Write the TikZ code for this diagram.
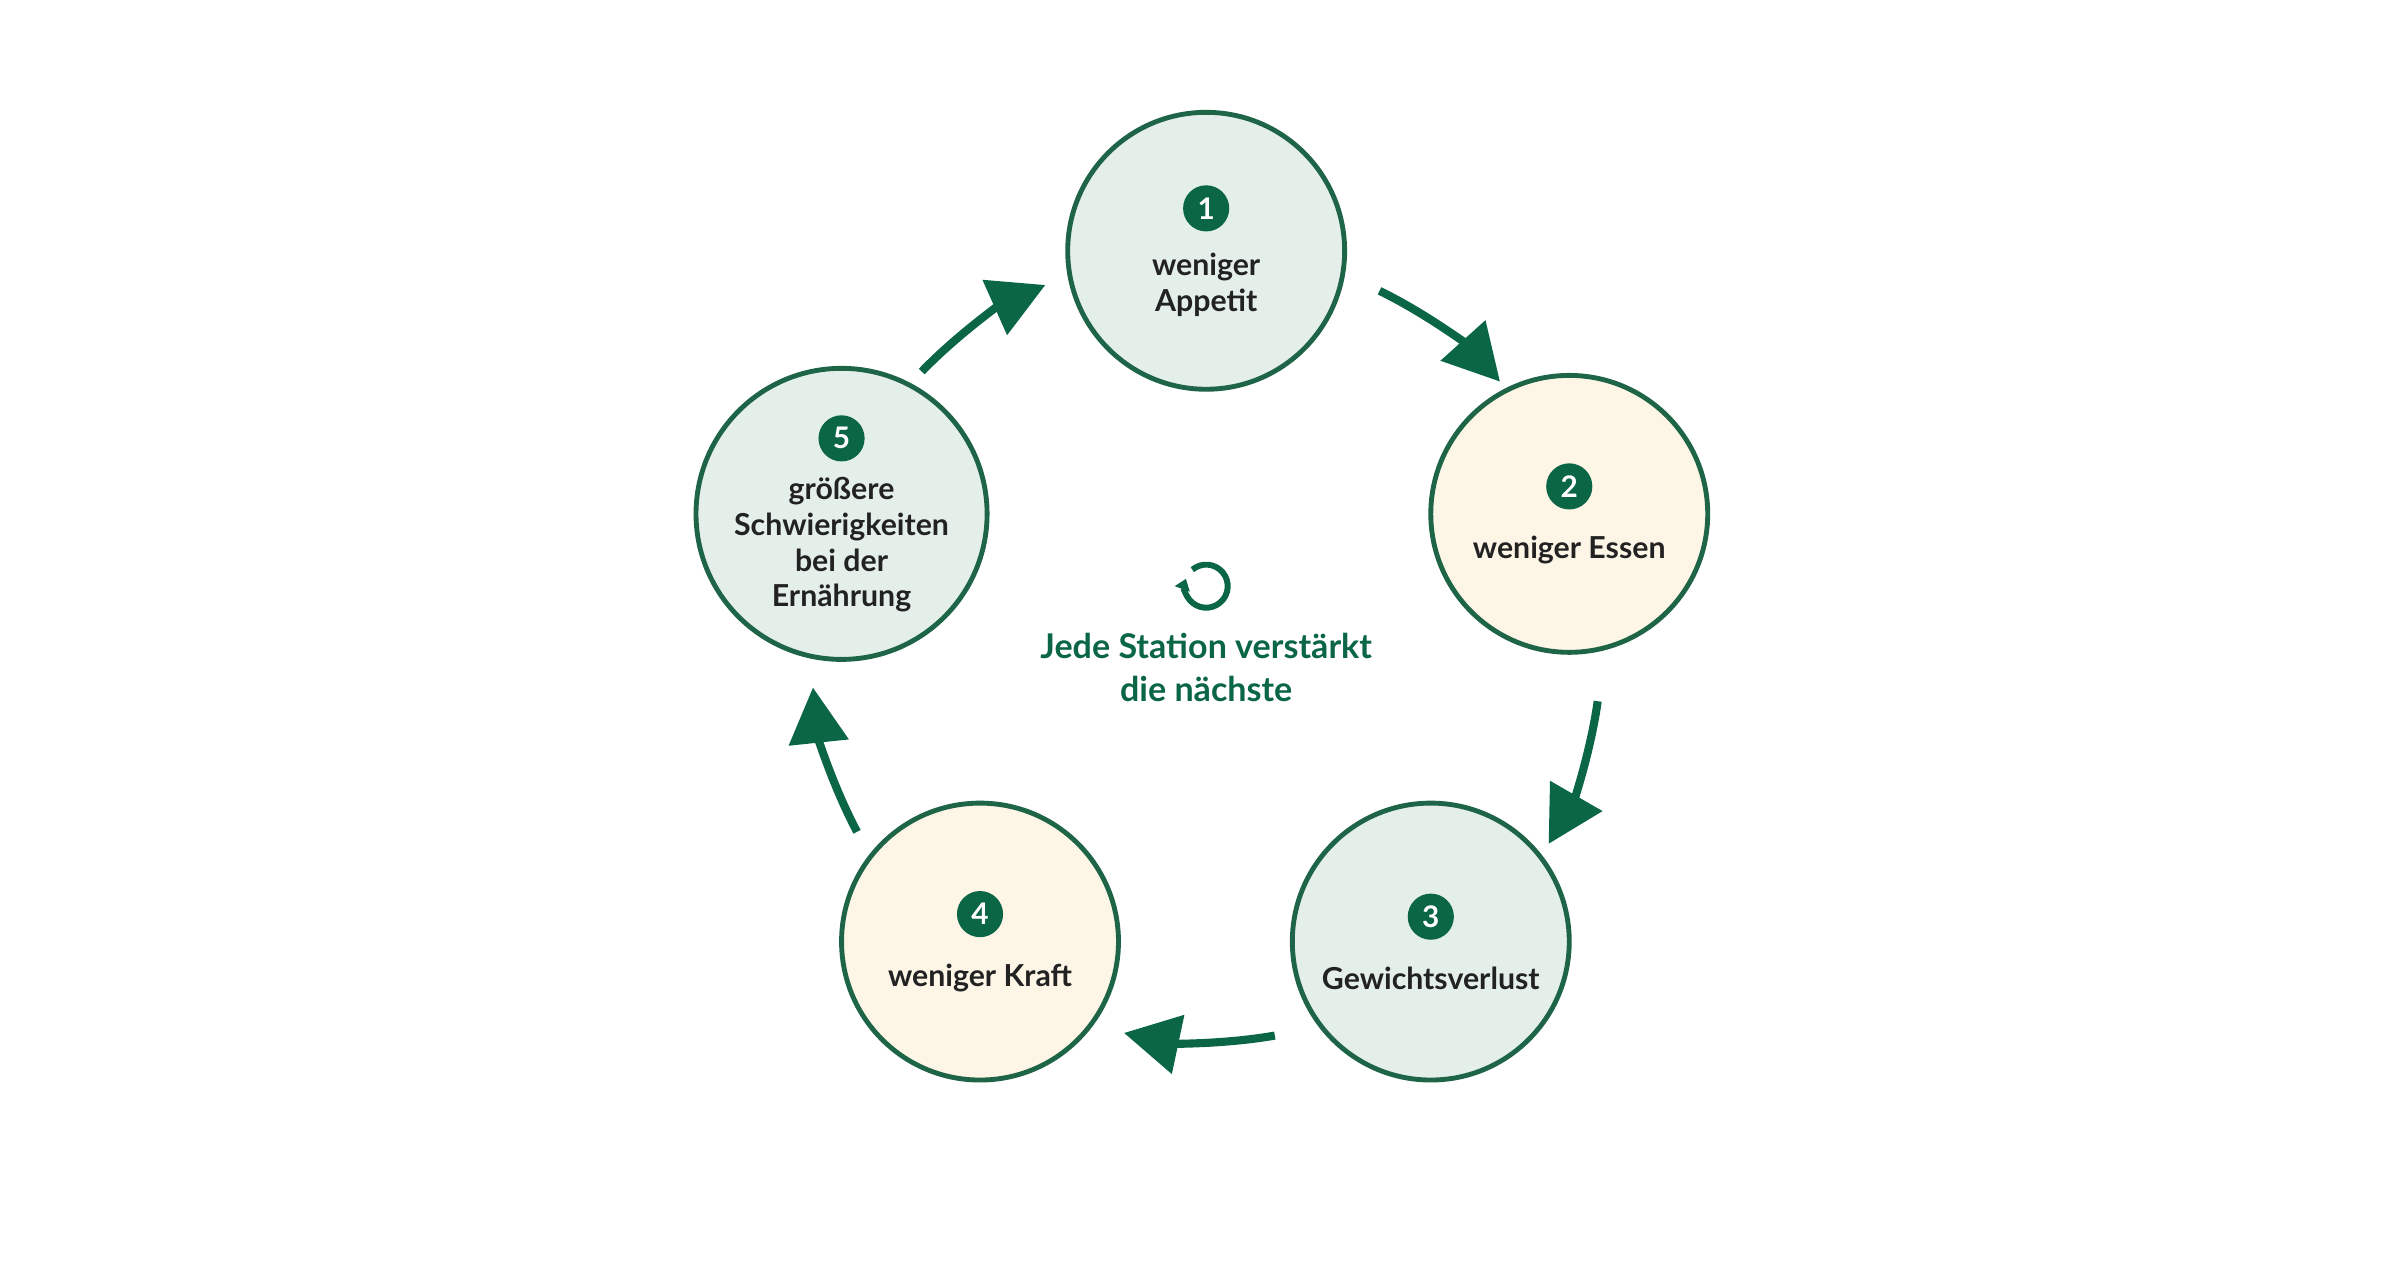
\documentclass[tikz,border=0pt]{standalone}
\usepackage{fontspec}
\setmainfont{Lato}
\usetikzlibrary{arrows.meta}
\definecolor{cyclegreen}{RGB}{10, 102, 68}
\definecolor{cycleline}{RGB}{30, 100, 70}
\definecolor{paleGreen}{RGB}{228, 239, 234}
\definecolor{paleCream}{RGB}{253, 246, 231}
\definecolor{inkdark}{RGB}{34, 34, 34}
\newcommand{\stepbadge}[1]{\tikz[baseline=-0.6ex]\node[circle,fill=cyclegreen,text=white,inner sep=0pt,minimum size=0.3cm,font=\fontsize{5.5}{6}\selectfont\bfseries]{#1};}

\begin{document}
\begin{tikzpicture}[
    station/.style={circle, draw=cycleline, line width=0.9pt, minimum size=1.8cm,
        inner sep=0pt, align=center, text=inkdark,
        font=\fontsize{5.6}{6.6}\selectfont\bfseries},
    loop/.style={line width=1.5pt, draw=cyclegreen,
        -{Triangle[length=0.36cm,width=0.38cm]}}
]
    \useasboundingbox (0,0) rectangle (15.6,-8.19);

    % Centre of the cycle
    \coordinate (C) at (7.84,-4.20);

    % Stations
    \node[station, fill=paleGreen] (s1) at (7.84,-1.63) {\stepbadge{1}\\[3pt]weniger\\Appetit};
    \node[station, fill=paleCream] (s2) at (10.20,-3.34) {\stepbadge{2}\\[4pt]weniger Essen};
    \node[station, fill=paleGreen] (s3) at (9.30,-6.12) {\stepbadge{3}\\[4pt]Gewichtsverlust};
    \node[station, fill=paleCream] (s4) at (6.37,-6.12) {\stepbadge{4}\\[4pt]weniger Kraft};
    \node[station, fill=paleGreen] (s5) at (5.47,-3.34) {\stepbadge{5}\\[2pt]größere\\Schwierigkeiten\\bei der\\Ernährung};

    % Arrows between stations
    \foreach \a in {90,18,-54,-126,-198} {
        \draw[loop] (C) ++(\a-26:2.57) arc[start angle=\a-26, end angle=\a-48, radius=2.57];
    }

    % Centre label
    \draw[cyclegreen, line width=1.1pt, -{Triangle[length=0.07cm,width=0.1cm]}]
        (7.84,-3.81) ++(130:0.14) arc[start angle=130, end angle=-200, radius=0.14];
    \node[text=cyclegreen, align=center, font=\fontsize{6.3}{8}\selectfont\bfseries]
        (note) at (7.84,-4.34) {Jede Station verstärkt\\die nächste};
\end{tikzpicture}
\end{document}
